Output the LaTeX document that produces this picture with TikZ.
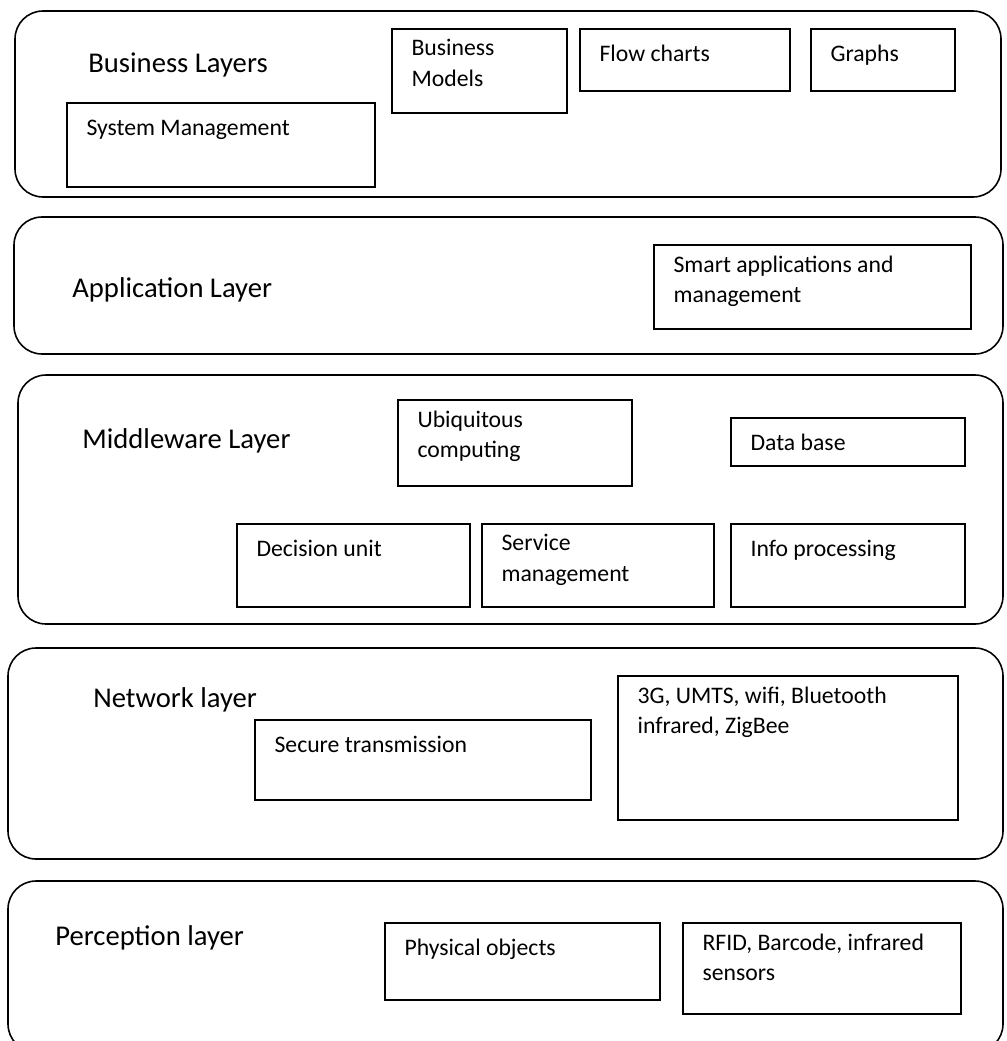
\documentclass[tikz,border=0pt]{standalone}
\usepackage{fontspec}
\setmainfont{Carlito}
\usetikzlibrary{fit}

\begin{document}
\begin{tikzpicture}[
    x=0.02cm, y=-0.02cm,
    layer/.style={
        rectangle,
        rounded corners=0.56cm,
        draw=black,
        line width=0.9pt,
        inner sep=0pt
    },
    unit/.style={
        rectangle,
        draw=black,
        line width=0.9pt,
        inner sep=0pt
    },
    layertitle/.style={
        anchor=base west,
        inner sep=0pt,
        font=\fontsize{16.3}{20}\selectfont
    },
    unittext/.style={
        anchor=north west,
        inner sep=0pt,
        align=left,
        font=\fontsize{13.5}{17.5}\selectfont,
        execute at begin node=\strut
    }
]
\clip (0,0) rectangle (1007,1041);

% layers
\node[layer, fit={(15,11) (1001,197)}] (business) {};
\node[layer, fit={(14,217) (1003,354)}] (application) {};
\node[layer, fit={(18,375) (1003,624)}] (middleware) {};
\node[layer, fit={(8,648) (1003,859)}] (network) {};
\node[layer, fit={(8,881) (1003,1052)}] (perception) {};

\node[layertitle] (business-t) at (88,72) {Business Layers};
\node[layertitle] (application-t) at (72,297) {Application Layer};
\node[layertitle] (middleware-t) at (82,448) {Middleware Layer};
\node[layertitle] (network-t) at (93,707) {Network layer};
\node[layertitle] (perception-t) at (55,945) {Perception layer};

% business
\node[unit, fit={(67,103) (375,187)}] (sysmgmt) {};
\node[unit, fit={(392,29) (567,113)}] (bizmodels) {};
\node[unit, fit={(580,29) (790,91)}] (flowcharts) {};
\node[unit, fit={(811,29) (955,91)}] (graphs) {};
\node[unittext] (sysmgmt-t) at ([shift={(20,11)}]sysmgmt.north west) {System Management};
\node[unittext] (bizmodels-t) at ([shift={(20,11)}]bizmodels.north west) {Business\\Models};
\node[unittext] (flowcharts-t) at ([shift={(20,11)}]flowcharts.north west) {Flow charts};
\node[unittext] (graphs-t) at ([shift={(20,11)}]graphs.north west) {Graphs};

% application
\node[unit, fit={(654,245) (971,329)}] (smartapps) {};
\node[unittext] (smartapps-t) at ([shift={(20,11)}]smartapps.north west) {Smart applications and\\management};

% middleware
\node[unit, fit={(398,400) (632,486)}] (ubiquitous) {};
\node[unit, fit={(731,418) (965,466)}] (database) {};
\node[unit, fit={(237,524) (470,607)}] (decision) {};
\node[unit, fit={(482,524) (714,607)}] (service) {};
\node[unit, fit={(731,524) (965,607)}] (infoproc) {};
\node[unittext] (ubiquitous-t) at ([shift={(20,11)}]ubiquitous.north west) {Ubiquitous\\computing};
\node[unittext] (database-t) at ([shift={(20,11)}]database.north west) {Data base};
\node[unittext] (decision-t) at ([shift={(20,11)}]decision.north west) {Decision unit};
\node[unittext] (service-t) at ([shift={(20,11)}]service.north west) {Service\\management};
\node[unittext] (infoproc-t) at ([shift={(20,11)}]infoproc.north west) {Info processing};

% network
\node[unit, fit={(255,720) (591,800)}] (securetx) {};
\node[unit, fit={(618,676) (958,820)}] (wireless) {};
\node[unittext] (securetx-t) at ([shift={(20,11)}]securetx.north west) {Secure transmission};
\node[unittext] (wireless-t) at ([shift={(20,11)}]wireless.north west) {3G, UMTS, wifi, Bluetooth\\infrared, ZigBee};

% perception
\node[unit, fit={(385,923) (660,1000)}] (physobj) {};
\node[unit, fit={(683,923) (961,1014)}] (rfid) {};
\node[unittext] (physobj-t) at ([shift={(20,11)}]physobj.north west) {Physical objects};
\node[unittext] (rfid-t) at ([shift={(20,11)}]rfid.north west) {RFID, Barcode, infrared\\sensors};

\end{tikzpicture}
\end{document}
